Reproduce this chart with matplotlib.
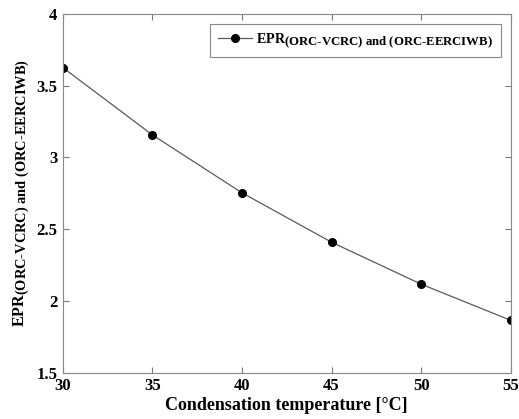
import matplotlib
matplotlib.use("Agg")
import matplotlib.pyplot as plt
import matplotlib._mathtext as mt

# condensation temperature [C] and EPR values
cond_temp = [30, 35, 40, 45, 50, 55]
epr = [3.626, 3.157, 2.754, 2.41, 2.118, 1.866]

x_ticks = [30, 35, 40, 45, 50, 55]
y_ticks = [1.5, 2, 2.5, 3, 3.5, 4]

plt.rcParams['font.family'] = 'Liberation Serif'
plt.rcParams['font.weight'] = 'bold'
plt.rcParams['mathtext.fontset'] = 'custom'
plt.rcParams['mathtext.rm'] = 'Liberation Serif:bold'
plt.rcParams['mathtext.bf'] = 'Liberation Serif:bold'
plt.rcParams['mathtext.it'] = 'Liberation Serif:bold'
# subscripts in the original are nearly full size
mt.SHRINK_FACTOR = 0.9

sub = r'$_{\text{(ORC-VCRC) and (ORC-EERCIWB)}}$'

fig = plt.figure(figsize=(5.19, 4.19), dpi=100)
ax = fig.add_axes([0.121, 0.110, 0.863, 0.857])

ax.plot(cond_temp, epr, color='#5a5a5a', linewidth=0.9, marker='o',
        markersize=5.5, markerfacecolor='black', markeredgecolor='black',
        label='EPR' + sub)

ax.set_xlim(30, 55)
ax.set_ylim(1.5, 4)
ax.set_xticks(x_ticks)
ax.set_yticks(y_ticks)
ax.set_yticklabels([f'{v:g}' for v in y_ticks])
ax.tick_params(direction='in', top=True, right=True, labelsize=12,
               color='#777777', length=4, pad=4)
for s in ax.spines.values():
    s.set_color('#888888')
    s.set_linewidth(0.8)

ax.set_xlabel('Condensation temperature [°C]', fontsize=13, fontweight='bold', labelpad=2)
ax.set_ylabel('EPR' + sub, fontsize=11.5, fontweight='bold', labelpad=3)

leg = ax.legend(loc='upper right', fontsize=10.2, fancybox=False, framealpha=1,
                edgecolor='#888888', handlelength=2.4, handletextpad=0.3,
                borderaxespad=0.7, borderpad=0.55)
leg.get_frame().set_linewidth(0.8)

fig.savefig('out.png', dpi=100)
